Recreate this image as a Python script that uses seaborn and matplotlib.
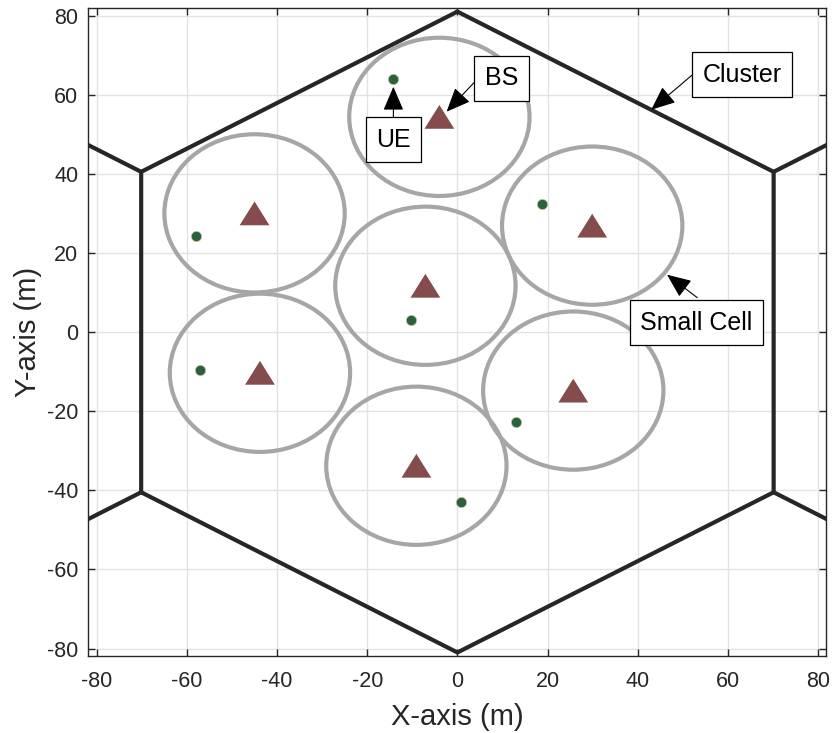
import numpy as np
import pandas as pd
import matplotlib
matplotlib.use("Agg")
import matplotlib.pyplot as plt
import seaborn as sns
from matplotlib.patches import Circle

# ---- data ----
bs_x = [-4.0, -45.0, -7.1, 29.9, -43.8, 25.7, -9.1]
bs_y = [54.4, 30.0, 11.7, 26.9, -10.3, -14.8, -33.8]
ue_x = [-14.2, -57.9, -10.4, 18.8, -57.1, 13.1, 0.9]
ue_y = [64.0, 24.3, 3.1, 32.4, -9.5, -22.7, -42.9]
cell_radius = 20
cluster_radius = 81
ticks = [-80, -60, -40, -20, 0, 20, 40, 60, 80]

ann_labels = ["UE", "BS", "Cluster", "Small Cell"]
ann_text_xy = [(-14.2, 48.6), (9.8, 64.2), (63.2, 65.0), (53.0, 2.3)]
ann_tail_xy = [(-14.2, 54.4), (3.8, 63.2), (52.1, 65.0), (53.2, 8.7)]
ann_tip_xy = [(-14.2, 62.0), (-2.4, 55.7), (43.0, 56.2), (46.5, 14.5)]

bs_df = pd.DataFrame({"x": bs_x, "y": bs_y})
ue_df = pd.DataFrame({"x": ue_x, "y": ue_y})

sns.set_theme(style="white")
plt.rcParams["font.family"] = ["Liberation Sans", "DejaVu Sans"]

fig = plt.figure(figsize=(8.32, 7.33), dpi=100)
ax = fig.add_axes([0.106, 0.105, 0.887, 0.884])

# grid
for t in ticks:
    ax.axvline(t, color="#e3e3e3", lw=1.0, zorder=0)
    ax.axhline(t, color="#e3e3e3", lw=1.0, zorder=0)

# cluster hexagon
ang = np.deg2rad(np.arange(90, 90 + 361, 60))
hx = cluster_radius * np.cos(ang)
hy = cluster_radius * np.sin(ang)
ax.plot(hx, hy, color="#262626", lw=3, solid_joinstyle="miter", zorder=2)
# neighbour cluster edges from side vertices
for a in [30, 150, 210, 330]:
    vx = cluster_radius * np.cos(np.deg2rad(a))
    vy = cluster_radius * np.sin(np.deg2rad(a))
    ax.plot([vx, vx + cluster_radius * np.cos(np.deg2rad(a))],
            [vy, vy + cluster_radius * np.sin(np.deg2rad(a))],
            color="#262626", lw=3, zorder=2)

# small cells
for cx, cy in zip(bs_x, bs_y):
    ax.add_patch(Circle((cx, cy), cell_radius, fill=False, ec="#a6a6a6", lw=3, zorder=3))

tri = [(-1, -0.8), (1, -0.8), (0, 0.8)]
sns.scatterplot(data=bs_df, x="x", y="y", marker=tri, s=460, color="#844c4c",
                edgecolor="none", ax=ax, zorder=5)
sns.scatterplot(data=ue_df, x="x", y="y", marker="o", s=55, color="#2a6140",
                edgecolor="#c8c890", linewidth=0.5, ax=ax, zorder=5)

# annotations
for lab, txy, tail, tip in zip(ann_labels, ann_text_xy, ann_tail_xy, ann_tip_xy):
    ax.annotate("", xy=tip, xytext=tail,
                arrowprops=dict(arrowstyle="-|>,head_length=0.75,head_width=0.32",
                                color="black", lw=0.8, mutation_scale=20,
                                shrinkA=0, shrinkB=0), zorder=6)
    ax.text(txy[0], txy[1], lab, ha="center", va="center", fontsize=18,
            color="black", zorder=7,
            bbox=dict(boxstyle="square,pad=0.42", fc="white", ec="black", lw=0.9))

ax.set_xlim(-81.9, 81.8)
ax.set_ylim(-81.9, 81.9)
ax.set_xticks(ticks)
ax.set_yticks(ticks)
ax.set_xticklabels([str(t) for t in ticks])
ax.set_yticklabels([str(t) for t in ticks])
ax.tick_params(direction="in", length=5, width=1, colors="#262626",
               labelsize=15.5, top=True, right=True, bottom=True, left=True,
               labelcolor="#262626")
ax.tick_params(axis="x", pad=11)
ax.tick_params(axis="y", pad=7)
for s in ax.spines.values():
    s.set_color("#262626")
    s.set_linewidth(1.0)
    s.set_visible(True)
ax.set_xlabel("X-axis (m)", fontsize=21, color="#262626", labelpad=8)
ax.set_ylabel("Y-axis (m)", fontsize=21, color="#262626", labelpad=4)

fig.savefig("out.png", dpi=100)
